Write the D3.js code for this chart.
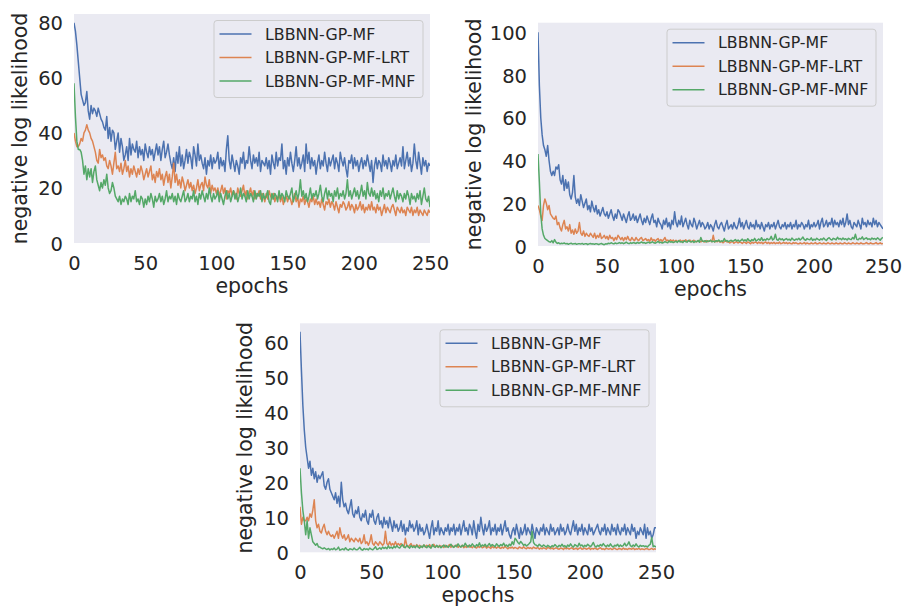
<!DOCTYPE html>
<html>
<head>
<meta charset="utf-8">
<script src="https://cdn.jsdelivr.net/npm/d3@7"></script>
<style>
  body { margin: 0; background: #fff; }
  text { font-family: "DejaVu Sans", sans-serif; fill: #262626; }
</style>
</head>
<body>
<div class="chart"></div>
<script>
// Series names and colours
var seriesNames = ["LBBNN-GP-MF", "LBBNN-GP-MF-LRT", "LBBNN-GP-MF-MNF"];
var seriesColors = ["#4c72b0", "#dd8452", "#55a868"];
var xTicks = [0, 50, 100, 150, 200, 250];

// Panel A (top left)
var aBlue = [80,77,72,66,60,54,52,50,51,55, 48,45,50,47,49,48,46,49,47,45,
  44,42,41,46,38,42,37,41,40,34, 37,40,33,38,35,30,32,35,30,38,
  32,36,34,33,37,31,35,32,34,30, 36,33,31,35,32,34,30,33,36,32,
  35,30,34,37,31,33,36,32,29,27, 31,26,33,29,35,28,32,27,30,34,
  29,33,31,27,35,32,28,36,30,32, 29,27,31,25,30,28,32,27,31,29,
  30,33,27,31,28,30,26,34,39,30, 27,32,29,26,30,28,25,31,29,33,
  27,30,29,35,30,27,32,29,31,28, 33,26,30,29,28,31,27,30,25,32,
  29,27,33,28,31,30,36,27,30,25, 31,28,33,29,26,30,35,28,31,27,
  29,32,26,36,29,33,27,31,28,30, 25,29,32,27,30,28,33,29,26,31,
  28,30,32,27,31,29,26,33,30,28, 31,27,24,30,29,32,27,31,28,30,
  26,29,31,27,30,28,32,29,26,30, 22,28,31,27,30,29,26,32,28,30,
  27,31,29,26,30,28,32,27,29,31, 28,35,27,30,33,28,31,26,29,36,
  30,27,33,29,25,31,28,30,26,29, 28];
var aOrange = [40,37,35,35,36,38,37,40,41,43, 41,40,38,37,35,33,30,29,34,31,
  32,30,31,28,27,30,28,25,29,33, 27,28,26,29,25,27,30,26,28,24,
  27,25,28,26,24,27,25,28,26,23, 25,27,24,26,28,23,25,22,26,24,
  27,23,25,21,24,26,22,25,20,24, 29,22,25,21,23,20,24,22,19,21,
  23,20,22,19,21,18,20,23,19,21, 22,19,24,21,20,23,18,21,19,20,
  18,20,17,19,21,18,20,16,19,18, 20,17,19,18,16,20,18,17,19,21,
  17,19,16,18,20,17,19,16,18,17, 19,16,18,17,15,18,16,19,17,16,
  18,15,17,16,18,15,17,14,16,17, 15,17,16,14,16,18,15,17,13,16,
  15,17,14,16,15,13,16,15,17,14, 16,14,15,13,16,14,12,15,14,16,
  13,15,14,12,15,13,11,14,13,15, 14,12,13,15,12,14,13,11,14,12,
  13,15,12,14,11,13,12,14,12,15, 12,13,11,14,12,13,10,12,14,11,
  13,12,11,13,14,12,10,13,12,11, 13,11,12,10,13,12,11,13,10,12,
  11,13,10,12,11,10,12,11,10,12, 11];
var aGreen = [58,46,37,34,34,33,30,25,28,23, 27,24,27,22,26,28,23,21,19,22,
  20,23,21,25,20,18,19,22,20,17, 16,15,17,14,16,15,17,16,14,18,
  15,17,16,19,15,16,14,17,16,13, 16,14,17,15,18,16,13,17,15,16,
  18,15,17,14,16,19,15,17,16,18, 15,17,14,18,16,15,17,19,15,16,
  18,15,17,16,19,15,17,14,18,16, 19,17,15,18,16,20,17,15,18,16,
  17,19,15,18,16,14,17,19,16,18, 15,17,19,16,18,15,17,20,16,18,
  17,15,19,16,18,17,15,19,16,18, 17,19,15,18,16,17,19,15,14,18,
  16,18,17,15,19,16,18,17,15,19, 17,16,18,20,15,17,19,16,18,23,
  17,19,16,18,15,17,20,16,18,17, 19,16,18,21,17,15,18,20,16,19,
  17,18,15,19,17,20,16,18,17,19, 16,18,23,17,19,16,18,20,17,19,
  16,18,21,17,19,16,22,18,17,20, 17,19,16,18,15,19,17,20,16,18,
  17,19,16,18,20,17,15,19,16,18, 17,15,18,16,19,17,14,18,16,17,
  15,18,16,19,14,17,20,16,15,17, 13];

// Panel B (top right)
var bBlue = [100,75,60,52,47,45,42,47,40,35, 33,35,33,37,36,38,31,29,33,26,
  31,27,30,24,22,25,33,23,20,22, 19,24,21,18,20,22,17,19,16,21,
  18,16,19,15,17,14,16,18,15,14, 16,13,15,17,14,12,15,13,17,16,
  14,12,15,13,11,14,16,12,13,15, 12,14,11,13,15,12,10,13,11,14,
  12,10,13,15,11,12,9,13,11,10, 8,12,10,13,9,11,8,12,10,16,
  11,9,12,10,14,9,11,13,10,8, 12,10,9,13,11,8,10,12,9,11,
  10,8,9,11,8,10,9,7,10,12, 9,8,10,11,9,7,10,12,8,9,
  10,8,11,9,8,10,13,9,11,8, 10,12,9,8,11,9,10,8,12,9,
  10,8,11,9,7,10,9,11,8,10, 9,11,8,10,12,9,8,10,9,11,
  8,10,9,11,8,10,9,12,8,10, 9,11,10,8,10,9,12,8,10,9,
  11,9,10,12,8,11,13,9,10,12, 9,11,10,13,9,12,10,11,9,12,
  10,13,9,11,15,10,12,9,8,11, 10,9,12,10,8,13,10,11,9,12,
  10,11,9,13,10,12,9,11,10,9, 8];
var bOrange = [19,17,14,12,19,22,20,17,19,15, 14,13,12.5,14,10,11,8.5,7,10,12,
  8,9,7,10,6,7.5,5.5,8,6,7, 11,6,5,7,4.5,6,5,4.5,6,5,
  4,6,3.5,5,4,6,3.5,4,5,3.5, 4.5,3,5,3.5,4,2.5,4,3,5,4,
  3,4,2.5,4,3,4.5,3,2.5,4,3, 2.5,4,3,2.5,3.5,4,2.5,3,3.5,2.5,
  3,2.2,3.8,2.5,3,2.2,3,3.5,2.3,3, 2.2,3,4,2.4,2.8,2.1,2.9,2.3,2.8,2,
  2.7,2.1,2.3,2.8,2,2.6,2.2,2.9,2.1,2.4, 2.8,2,2.3,2.7,2.1,2,2.6,2.2,1.9,2.5,
  2.1,1.9,2.6,2,2.2,2.7,2,5,1.9,2.2, 2,2.5,1.8,2.1,1.5,2,2.6,1.9,2,1.4,
  1.9,2.1,1.3,1.8,2,1.4,1.9,1.7,1.2,1.8, 1.7,1.2,1.9,1.6,1.1,1.8,1.3,1.7,1.9,1.2,
  1.8,1.3,1.7,1.1,1.6,1.9,1.2,1.7,1.1,1.6, 1.2,1.7,1.1,1.5,1.2,1.8,1.1,1.3,1.7,1.2,
  1.6,1.1,1.5,1.2,1,1.6,1.2,1.5,1.1,1, 1.5,1.1,1.2,1.6,1,1.4,1.1,1,1.5,1.1,
  1.2,1.6,1,1.1,1.5,1.2,1,1.4,1.1,1, 1.5,1.2,1,1.4,1.1,1,1.5,1.1,1,1.4,
  1.1,1,1.5,1.2,1,1.4,1.1,1,1.5,1.2, 1,1.4,1.1,1,1.5,1.1,1,1.2,1.6,1.1,
  1,1.5,1.1,1,1.2,1.6,1,1.1,1.5,1, 1.2];
var bGreen = [43,30,15,8,5,3.5,3,2.5,2,1.8, 2.5,1.5,3,1.8,1.2,1.5,1,1.3,1.1,1.4,
  1,1.2,0.8,1.1,1.3,0.9,1,1.2,0.8,1, 1.1,0.9,1.2,0.8,1,1.1,0.7,1,1.2,0.9,
  1,0.8,1.1,0.9,0.7,1,1.2,0.8,0.6,1, 0.9,1.3,1.1,1.5,1.2,1,1.4,1.1,1.3,1.6,
  1.2,1.5,1.1,1.4,1.8,1.3,1.1,1.5,1.2,1.6, 1.4,1.2,1.7,1.3,1.5,1.9,1.4,1.6,1.2,1.5,
  1.8,1.4,1.6,2,1.5,1.3,1.7,2.2,1.5,1.8, 1.4,1.6,2.1,1.7,1.5,2.3,1.8,2,1.6,1.9,
  2.2,1.7,2.5,1.9,2.1,1.6,2.4,2,1.8,2.6, 2.1,1.9,2.3,1.7,2.2,2,2.6,1.8,4,2.3,
  2.1,2.5,1.9,2.4,2.2,2.7,2,2.3,1.9,2.5, 2.2,2.8,2,2.4,2.1,3.5,2.3,2.6,2,2.4,
  2.7,2.2,2.5,3,2.3,2.8,2.1,2.6,3.2,2.4, 2.9,2.3,3.4,2.6,2.2,3,2.5,3.6,2.4,2.8,
  3.3,2.6,3.9,2.5,3.1,2.7,3.5,2.9,3.2,4.5, 2.8,3.3,5.5,3,2.7,3.6,2.9,3.4,2.6,3.1,
  3.5,2.8,3.2,2.6,3.7,3,2.7,3.3,2.9,3.6, 2.8,3.4,4.2,3,2.7,3.5,3.1,2.9,3.8,2.6,
  3.2,2.8,3.6,3.1,2.7,3.4,2.9,3.7,3,2.6, 3.5,3.9,3.1,2.8,3.6,3.3,2.9,4.1,3.2,3.5,
  2.9,3.7,3.1,3.4,2.8,3.6,3.2,3,4,3.3, 5.5,3.1,2.9,3.6,3.3,4.3,3,3.5,3.8,3.1,
  3.4,2.9,3.7,3.2,3.5,3,3.8,3.3,2.7,3.6, 4];

// Panel C (bottom)
var cBlue = [63,52,42,35,30,27,24,26,22,24, 21,23,20,22,21,22,23,19,18,20,
  21,18,17,16,15,17,14,16,13,20, 15,13,14,12,11,13,15,11,10,12,
  11,13,10,9,11,10,12,9,8,11, 10,12,9,8,10,11,8,9,7,10,
  8,9,7,10,8,6,9,7,8,6, 7,9,6,8,5,7,6,9,7,8,
  6,7,9,5,8,6,7,5,6,8, 6,4,7,9,5,7,6,9,5,7,
  6,5,7,6,8,5,7,6,8,5, 7,6,8,5,7,9,6,7,5,8,
  7,5,9,6,4,8,6,10,7,5, 8,6,7,9,5,7,6,8,5,7,
  6,8,5,7,9,6,7,5,4,6, 7,5,8,6,4,7,5,6,8,5,
  7,6,5,8,6,4,7,6,5,7, 6,8,5,7,6,5,8,6,7,5,
  6,7,5,8,6,7,5,6,8,6, 5,7,9,6,8,5,7,6,8,5,
  7,6,5,8,6,7,5,6,7,8, 6,5,7,6,8,5,7,6,5,8,
  6,7,5,8,6,5,7,6,8,5, 7,6,5,8,6,7,4,6,5,7,
  6,5,8,4,7,5,6,4,5,7, 7];
var cOrange = [13,8,10,9,9,10,9,11,10,12, 15,9,7,8,6,5.5,7,8,6,5,
  6,5,4.5,5,4,5,6,4,7,5, 4,5,3.5,4,5,3,4,3.5,3,4,
  3.5,3,4,2.5,3,5,2.5,3,2,3, 5,2.5,2,3,2.5,2,3,2.5,2,2.5,
  6,2.5,2,3,2,2.5,2,3,2,2.5, 2,2.5,2,1.5,4,2,1.5,2,2.5,1.5,
  2,1.5,2.2,1.5,2,1.5,1.6,2.1,1.5,2, 1.6,2.2,1.4,1.8,2.3,1.5,1.9,1.4,2,1.6,
  1.8,1.4,2,1.5,1.7,2.2,1.4,1.9,1.5,1.7, 2.1,1.4,1.8,1.5,2,1.3,1.7,1.4,1.9,1.5,
  1.6,1.3,1.8,1.4,1.2,1.7,1.4,1.9,1.3,1.5, 1.8,1.2,1.6,1.4,1.1,1.7,1.3,1.5,1.2,1.6,
  1.3,1.1,1.5,1.2,1.7,1.3,1,1.4,1.2,1.5, 1.1,1.4,1.2,1,1.5,1.3,1.1,1.6,1.2,1,
  1.4,1.1,1.3,1,1.5,1.2,1.1,1.4,0.9,1.2, 1,1.3,1.1,0.9,1.4,1.2,1,1.3,0.9,1.1,
  1.3,1,0.9,1.2,1.1,0.8,1.3,1,1.2,0.9, 1.1,1.3,0.9,1,1.2,0.8,1.1,1.3,0.9,1,
  1.2,0.9,1,1.3,0.8,1.1,0.9,1.2,1,0.8, 1.1,1.3,0.9,1,0.8,1.2,1,0.9,1.1,0.8,
  1,1.2,0.9,0.8,1.1,1,0.8,1.2,0.9,1, 0.8,1.1,1,0.9,1.2,0.8,1,0.9,1.1,0.8,
  1,0.9,0.8,1.1,1,0.8,0.9,1.1,0.8,1, 0.9];
var cGreen = [24,17,12,9,5,9,4,7,5,3, 2.5,2,2.5,1.5,1.5,1.2,1,1.3,1,0.8,
  1.1,0.7,1,0.8,1.2,0.7,0.9,1.5,0.6,0.8, 1,0.7,1.3,0.8,0.6,1,0.9,0.7,1.2,0.8,
  0.7,1,1.4,0.8,0.6,1.1,0.8,1,0.7,1.2, 0.9,0.7,1.1,1.6,0.8,1,1.3,0.9,1.5,1.1,
  1.4,1,1.8,1.2,1.5,1.1,1.7,1.3,1.9,1.4, 1.2,1.8,2.2,1.5,1.3,2,1.6,1.2,1.9,1.4,
  1.7,1.3,2,1.5,1.2,1.8,1.4,2.1,1.6,1.3, 1.9,1.5,1.2,2.2,1.6,1.4,2,1.5,1.8,1.3,
  1.7,2.1,1.5,1.9,1.4,1.8,2.3,1.6,1.4,2, 1.6,2.4,1.8,1.5,2,1.7,2.6,1.9,1.5,2.1,
  1.7,2.4,1.9,1.5,2.2,1.8,2.7,1.6,2.1,1.8, 2.3,1.6,2,2.5,1.7,2.2,1.9,1.6,2.4,2,
  1.7,2.2,1.9,2.6,1.8,2.1,1.6,2.3,1.9,3, 2.2,4,3.5,2.8,2.4,3.1,2.6,2,2.3,1.8,
  2.1,2.5,3,6,2.8,2.2,2,1.7,2.3,1.9, 1.6,2.1,1.8,1.5,2,1.7,1.4,1.9,1.6,2.2,
  1.8,1.5,2,1.7,2.3,1.6,1.9,1.4,2.1,1.7, 2.4,1.8,1.5,2.2,1.9,1.6,2.6,1.8,2.1,1.5,
  2,1.7,2.3,1.9,1.6,2.1,2.8,1.8,1.5,2, 1.7,2.2,1.8,2.5,1.9,1.6,2.1,1.7,2.4,1.8,
  1.5,2,1.8,2.3,1.6,2.1,1.7,1.9,2.6,1.8, 2.2,3,1.9,1.6,2.1,1.7,2.4,1.8,1.5,2,
  1.7,1.9,1.6,1.8,1.5,2,2.3,4.2,1.6,1.8, 1.5];

// Panel layout (plot area boxes)
var panels = [
  {series: [aBlue, aOrange, aGreen], yMax: 83.2, yTicks: [0, 20, 40, 60, 80],
   left: 74, right: 430, top: 14, bottom: 243, labelX: -47},
  {series: [bBlue, bOrange, bGreen], yMax: 104.5, yTicks: [0, 20, 40, 60, 80, 100],
   left: 538, right: 883, top: 22.7, bottom: 246, labelX: -57},
  {series: [cBlue, cOrange, cGreen], yMax: 65.4, yTicks: [0, 10, 20, 30, 40, 50, 60],
   left: 300, right: 656, top: 323.3, bottom: 552.3, labelX: -48}
];

var svg = d3.select(".chart").append("svg")
  .attr("width", 904).attr("height", 608);

svg.append("rect").attr("width", 904).attr("height", 608).attr("fill", "#fff");

panels.forEach(function(p) {
  var w = p.right - p.left;
  var h = p.bottom - p.top;
  var g = svg.append("g").attr("transform", "translate(" + p.left + "," + p.top + ")");

  var x = d3.scaleLinear().domain([0, 250]).range([0, w]);
  var y = d3.scaleLinear().domain([0, p.yMax]).range([h, 0]);

  // background
  g.append("rect").attr("width", w).attr("height", h).attr("fill", "#eaeaf2");

  // clip lines to plot area
  var clipId = "clip" + p.left;
  g.append("clipPath").attr("id", clipId)
    .append("rect").attr("width", w).attr("height", h);

  var line = d3.line()
    .x(function(d, i) { return x(i); })
    .y(function(d) { return y(d); });

  p.series.forEach(function(s, k) {
    g.append("path")
      .datum(s)
      .attr("clip-path", "url(#" + clipId + ")")
      .attr("fill", "none")
      .attr("stroke", seriesColors[k])
      .attr("stroke-width", 1.5)
      .attr("stroke-linejoin", "round")
      .attr("d", line);
  });

  // axes without tick marks or domain line
  var xAxis = g.append("g").attr("transform", "translate(0," + h + ")")
    .call(d3.axisBottom(x).tickValues(xTicks).tickSize(0).tickPadding(0));
  xAxis.select(".domain").remove();
  xAxis.selectAll("text")
    .attr("y", 26.5).attr("dy", 0)
    .style("font-size", "19.5px").style("font-family", "DejaVu Sans").attr("fill", "#262626");

  var yAxis = g.append("g")
    .call(d3.axisLeft(y).tickValues(p.yTicks).tickSize(0).tickPadding(11));
  yAxis.select(".domain").remove();
  yAxis.selectAll("text")
    .attr("dy", "0.36em")
    .style("font-size", "19.5px").style("font-family", "DejaVu Sans").attr("fill", "#262626");

  // axis labels
  g.append("text")
    .attr("x", w / 2).attr("y", h + 50)
    .attr("text-anchor", "middle")
    .style("font-size", "20.5px")
    .text("epochs");
  g.append("text")
    .attr("transform", "rotate(-90)")
    .attr("x", -h / 2).attr("y", p.labelX)
    .attr("text-anchor", "middle")
    .style("font-size", "20.5px")
    .text("negative log likelihood");

  // legend
  var lw = 209, lh = 77;
  var lg = g.append("g").attr("transform", "translate(" + (w - 7 - lw) + ",6.5)");
  lg.append("rect")
    .attr("width", lw).attr("height", lh).attr("rx", 3)
    .attr("fill", "#eaeaf2").attr("stroke", "#cccccc").attr("stroke-width", 1);
  seriesNames.forEach(function(name, k) {
    var ly = 13.5 + k * 23.5;
    lg.append("line")
      .attr("x1", 5.5).attr("x2", 37.5).attr("y1", ly).attr("y2", ly)
      .attr("stroke", seriesColors[k]).attr("stroke-width", 1.5);
    lg.append("text")
      .attr("x", 51).attr("y", ly).attr("dy", "0.36em")
      .style("font-size", "15.8px")
      .text(name);
  });
});
</script>
</body>
</html>
